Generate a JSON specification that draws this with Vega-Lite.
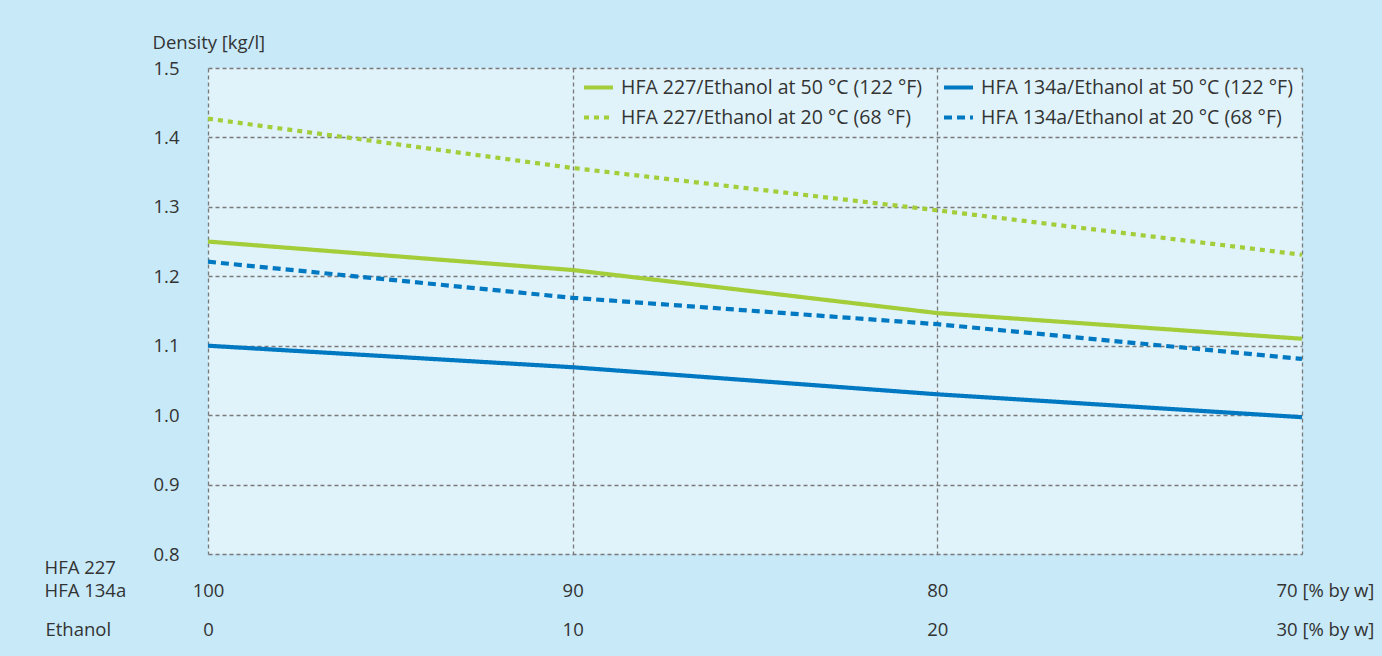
{
  "$schema": "https://vega.github.io/schema/vega-lite/v6.json",
  "autosize": {"type": "none"},
  "width": 1094,
  "height": 486,
  "padding": {"left": 208, "top": 68, "right": 80, "bottom": 102},
  "background": "#c7e9f8",
  "config": {
    "view": {"fill": "#e0f3fb", "stroke": null},
    "font": "Open Sans",
    "axis": {"labelFont": "Open Sans", "titleFont": "Open Sans", "labelColor": "#333333", "titleColor": "#333333", "titleFontWeight": "normal", "labelFontSize": 18.5, "titleFontSize": 18.5, "domain": false, "ticks": false},
    "legend": {"labelFont": "Open Sans", "labelColor": "#333333", "labelFontSize": 19.5}
  },
  "data": {
    "values": [
      {"ethanol": 0, "series": "HFA 227/Ethanol at 50 °C (122 °F)", "density": 1.25},
      {"ethanol": 10, "series": "HFA 227/Ethanol at 50 °C (122 °F)", "density": 1.209},
      {"ethanol": 20, "series": "HFA 227/Ethanol at 50 °C (122 °F)", "density": 1.147},
      {"ethanol": 30, "series": "HFA 227/Ethanol at 50 °C (122 °F)", "density": 1.11},
      {"ethanol": 0, "series": "HFA 227/Ethanol at 20 °C (68 °F)", "density": 1.427},
      {"ethanol": 10, "series": "HFA 227/Ethanol at 20 °C (68 °F)", "density": 1.356},
      {"ethanol": 20, "series": "HFA 227/Ethanol at 20 °C (68 °F)", "density": 1.295},
      {"ethanol": 30, "series": "HFA 227/Ethanol at 20 °C (68 °F)", "density": 1.231},
      {"ethanol": 0, "series": "HFA 134a/Ethanol at 50 °C (122 °F)", "density": 1.1},
      {"ethanol": 10, "series": "HFA 134a/Ethanol at 50 °C (122 °F)", "density": 1.069},
      {"ethanol": 20, "series": "HFA 134a/Ethanol at 50 °C (122 °F)", "density": 1.03},
      {"ethanol": 30, "series": "HFA 134a/Ethanol at 50 °C (122 °F)", "density": 0.997},
      {"ethanol": 0, "series": "HFA 134a/Ethanol at 20 °C (68 °F)", "density": 1.221},
      {"ethanol": 10, "series": "HFA 134a/Ethanol at 20 °C (68 °F)", "density": 1.169},
      {"ethanol": 20, "series": "HFA 134a/Ethanol at 20 °C (68 °F)", "density": 1.131},
      {"ethanol": 30, "series": "HFA 134a/Ethanol at 20 °C (68 °F)", "density": 1.081}
    ]
  },
  "resolve": {"axis": {"x": "independent"}},
  "layer": [
    {
      "mark": {"type": "line", "strokeWidth": 4.2},
      "encoding": {
        "x": {
          "field": "ethanol", "type": "quantitative",
          "scale": {"domain": [0, 30], "nice": false, "zero": false},
          "axis": {
            "orient": "bottom",
            "values": [0, 10, 20, 30],
            "grid": true, "gridColor": "#7a7a7a", "gridDash": [4, 3], "gridWidth": 1.3,
            "labelExpr": "datum.value == 30 ? '70 [% by w]' : '' + (100 - datum.value)",
            "labelAlign": {"condition": {"test": "datum.value == 30", "value": "left"}, "value": "center"},
            "labelOffset": {"condition": {"test": "datum.value == 30", "value": -26}, "value": 0},
            "labelBaseline": "middle",
            "labelPadding": 36,
            "labelFlush": false,
            "labelOverlap": false,
            "title": ["HFA 227", "HFA 134a"],
            "titleX": -164, "titleY": 13, "titleAlign": "left", "titleBaseline": "middle", "titleLineHeight": 23, "titleAngle": 0
          }
        },
        "y": {
          "field": "density", "type": "quantitative",
          "scale": {"domain": [0.8, 1.5], "nice": false, "zero": false},
          "axis": {
            "values": [0.8, 0.9, 1.0, 1.1, 1.2, 1.3, 1.4, 1.5],
            "format": ".1f",
            "grid": true, "gridColor": "#7a7a7a", "gridDash": [4, 3], "gridWidth": 1.3,
            "labelPadding": 29,
            "labelFlush": false,
            "title": "Density [kg/l]",
            "titleX": -56, "titleY": -26, "titleAngle": 0, "titleAlign": "left", "titleBaseline": "middle"
          }
        },
        "color": {
          "field": "series", "type": "nominal",
          "scale": {
            "domain": ["HFA 227/Ethanol at 50 °C (122 °F)", "HFA 227/Ethanol at 20 °C (68 °F)", "HFA 134a/Ethanol at 50 °C (122 °F)", "HFA 134a/Ethanol at 20 °C (68 °F)"],
            "range": ["#a4cd3a", "#a4cd3a", "#0079c2", "#0079c2"]
          },
          "legend": {
            "title": null, "orient": "none", "legendX": 374, "legendY": 3,
            "columns": 2, "columnPadding": 13, "rowPadding": 4,
            "symbolType": "stroke", "symbolSize": 841, "symbolStrokeWidth": 4,
            "labelOffset": 6, "labelLimit": 400, "padding": 0
          }
        },
        "strokeDash": {
          "field": "series", "type": "nominal",
          "scale": {
            "domain": ["HFA 227/Ethanol at 50 °C (122 °F)", "HFA 227/Ethanol at 20 °C (68 °F)", "HFA 134a/Ethanol at 50 °C (122 °F)", "HFA 134a/Ethanol at 20 °C (68 °F)"],
            "range": [[1, 0], [5, 5], [1, 0], [8, 5]]
          },
          "legend": {
            "title": null, "orient": "none", "legendX": 374, "legendY": 3,
            "columns": 2, "columnPadding": 13, "rowPadding": 4,
            "symbolType": "stroke", "symbolSize": 841, "symbolStrokeWidth": 4,
            "labelOffset": 6, "labelLimit": 400, "padding": 0
          }
        }
      }
    },
    {
      "mark": {"type": "line", "opacity": 0},
      "encoding": {
        "x": {
          "field": "ethanol", "type": "quantitative",
          "axis": {
            "orient": "bottom",
            "offset": 39,
            "values": [0, 10, 20, 30],
            "grid": false,
            "labelExpr": "datum.value == 30 ? '30 [% by w]' : '' + datum.value",
            "labelAlign": {"condition": {"test": "datum.value == 30", "value": "left"}, "value": "center"},
            "labelOffset": {"condition": {"test": "datum.value == 30", "value": -26}, "value": 0},
            "labelBaseline": "middle",
            "labelPadding": 36,
            "labelFlush": false,
            "labelOverlap": false,
            "title": "Ethanol",
            "titleX": -163, "titleY": 36, "titleAlign": "left", "titleBaseline": "middle", "titleAngle": 0
          }
        },
        "y": {"field": "density", "type": "quantitative"},
        "detail": {"field": "series", "type": "nominal"}
      }
    }
  ]
}
